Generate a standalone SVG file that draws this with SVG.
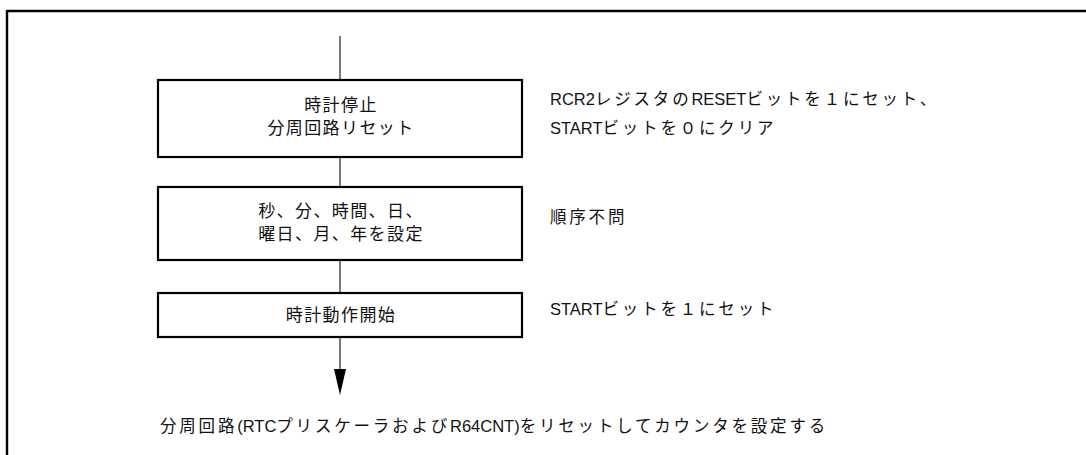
<svg xmlns="http://www.w3.org/2000/svg" width="1086" height="455" viewBox="0 0 1086 455">
<style>
.box{fill:#fff;stroke:#000;stroke-width:2.2}
.conn{stroke:#222;stroke-width:1.2;fill:none}
.bt{font-family:"Liberation Sans","Noto Sans CJK JP",sans-serif;font-size:17px;letter-spacing:1.4px;fill:#111;text-anchor:middle}
.nt{font-family:"Liberation Sans","Noto Sans CJK JP",sans-serif;font-size:16.5px;fill:#111}
.j{font-size:16.5px;letter-spacing:2.8px}
</style>
<rect width="1086" height="455" fill="#fff"/>
<g id="frame">
<line x1="7" y1="11" x2="1086" y2="11" stroke="#000" stroke-width="2.4"/>
<line x1="7" y1="10" x2="7" y2="455" stroke="#000" stroke-width="2.4"/>
</g>
<g id="connectors">
<line class="conn" x1="340" y1="36" x2="340" y2="80"/>
<line class="conn" x1="340" y1="157" x2="340" y2="187"/>
<line class="conn" x1="340" y1="260" x2="340" y2="293"/>
<line class="conn" x1="340" y1="337" x2="340" y2="370"/>
<path d="M334,369 L346,369 L340,395 Z" fill="#000"/>
</g>
<g id="node1">
<rect class="box" x="158" y="80" width="364" height="77"/>
<text class="bt" x="341" y="111">時計停止</text>
<text class="bt" x="341" y="134">分周回路リセット</text>
</g>
<g id="node2">
<rect class="box" x="158" y="187" width="364" height="73"/>
<text class="bt" x="341" y="217">秒、分、時間、日、</text>
<text class="bt" x="341" y="240">曜日、月、年を設定</text>
</g>
<g id="node3">
<rect class="box" x="158" y="293" width="364" height="44"/>
<text class="bt" x="341" y="321">時計動作開始</text>
</g>
<g id="notes">
<text class="nt" x="550" y="105">RCR2<tspan class="j">レジスタの</tspan>RESET<tspan class="j">ビットを１にセット、</tspan></text>
<text class="nt" x="550" y="134">START<tspan class="j">ビットを０にクリア</tspan></text>
<text class="nt" x="550" y="223"><tspan class="j">順序不問</tspan></text>
<text class="nt" x="550" y="315">START<tspan class="j">ビットを１にセット</tspan></text>
<text class="nt" x="160" y="432"><tspan class="j">分周回路</tspan>(RTC<tspan class="j">プリスケーラおよび</tspan>R64CNT)<tspan class="j">をリセットしてカウンタを設定する</tspan></text>
</g>
</svg>
